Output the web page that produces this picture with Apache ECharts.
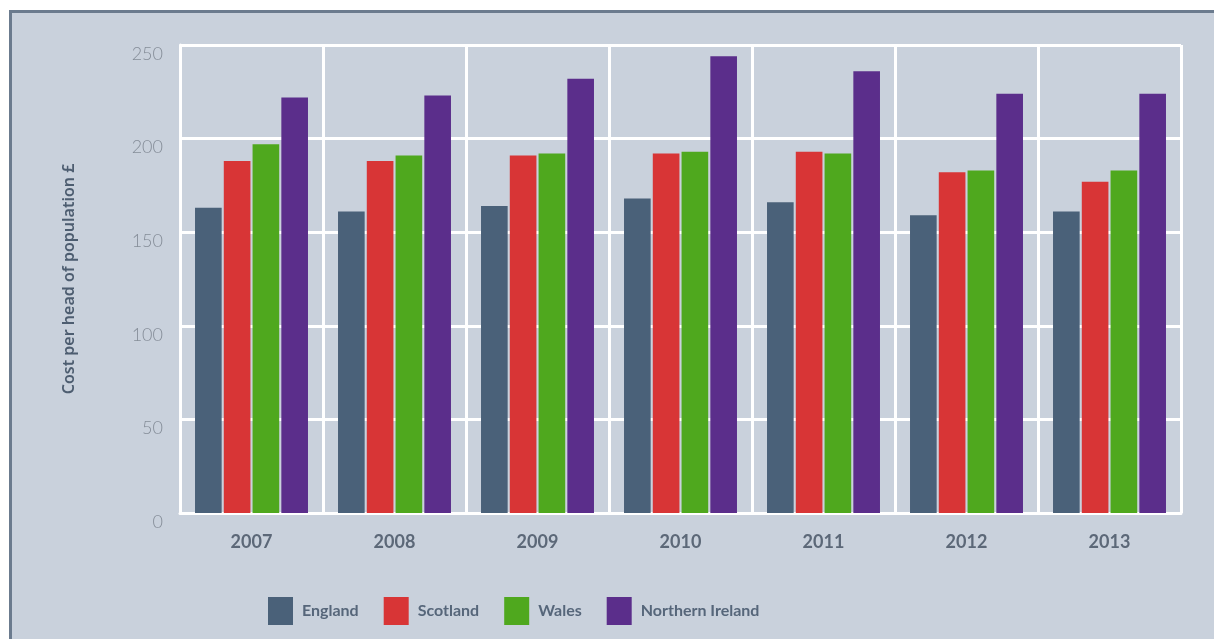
<!DOCTYPE html>
<html>
<head>
<meta charset="utf-8">
<script src="https://cdn.jsdelivr.net/npm/echarts@6/dist/echarts.min.js"></script>
<style>
  html, body { margin: 0; padding: 0; background: #ffffff; overflow: hidden; }
  #frame {
    position: absolute; left: 9px; top: 10px; width: 1202px; height: 626px;
    background: #c9d1dc; border-top: 3px solid #6b7b8e; border-left: 3px solid #6b7b8e;
  }
  #chart { position: absolute; left: 0; top: 0; width: 1214px; height: 639px; }
</style>
</head>
<body>
<div id="frame"></div>
<div id="chart"></div>
<script>
// values, £ per head
const years = ['2007', '2008', '2009', '2010', '2011', '2012', '2013']
const england = [163, 161, 164, 168, 166, 159, 161]
const scotland = [188, 188, 191, 192, 193, 182, 177]
const wales = [197, 191, 192, 193, 192, 183, 183]
const northernIreland = [222, 223, 232, 244, 236, 224, 224]

const names = ['England', 'Scotland', 'Wales', 'Northern Ireland']
const colors = ['#4a6179', '#d83536', '#4fa81e', '#5b2e8b']
const values = [england, scotland, wales, northernIreland]

const chart = echarts.init(document.getElementById('chart'))

chart.setOption({
  backgroundColor: 'transparent',
  animation: false,
  color: colors,
  textStyle: { fontFamily: 'Lato' },
  grid: { left: 180, right: 33, top: 45, bottom: 126 },
  legend: {
    left: 268,
    top: 597,
    padding: 0,
    itemWidth: 25,
    itemHeight: 28,
    itemGap: 25,
    icon: 'rect',
    textStyle: {
      fontFamily: 'Lato',
      fontSize: 16,
      fontWeight: 'bold',
      color: '#56667a',
      padding: [13, 0, 0, 4]
    },
    data: names
  },
  xAxis: {
    type: 'category',
    data: years,
    axisLine: { lineStyle: { color: '#ffffff', width: 3 } },
    axisTick: { show: false },
    axisLabel: {
      margin: 20,
      fontFamily: 'Lato',
      fontSize: 18,
      fontWeight: 'bold',
      color: '#5c6878'
    },
    splitLine: { show: true, lineStyle: { color: '#ffffff', width: 3 } }
  },
  yAxis: {
    type: 'value',
    min: 0,
    max: 250,
    interval: 50,
    name: 'Cost per head of population £',
    nameLocation: 'middle',
    nameGap: 103,
    nameTextStyle: {
      fontFamily: 'Noto Sans',
      fontSize: 16,
      fontWeight: 600,
      color: '#4d5d70'
    },
    axisLine: { show: true, lineStyle: { color: '#ffffff', width: 3 } },
    axisTick: { show: false },
    axisLabel: {
      margin: 17,
      fontFamily: 'Lato',
      fontSize: 18,
      fontWeight: 300,
      color: '#858d98',
      verticalAlign: 'top'
    },
    splitLine: { lineStyle: { color: '#ffffff', width: 3 } }
  },
  series: names.map((name, i) => ({
    name: name,
    type: 'bar',
    data: values[i],
    barGap: '8%',
    barCategoryGap: '21%',
    itemStyle: { color: colors[i] }
  }))
})
</script>
</body>
</html>
